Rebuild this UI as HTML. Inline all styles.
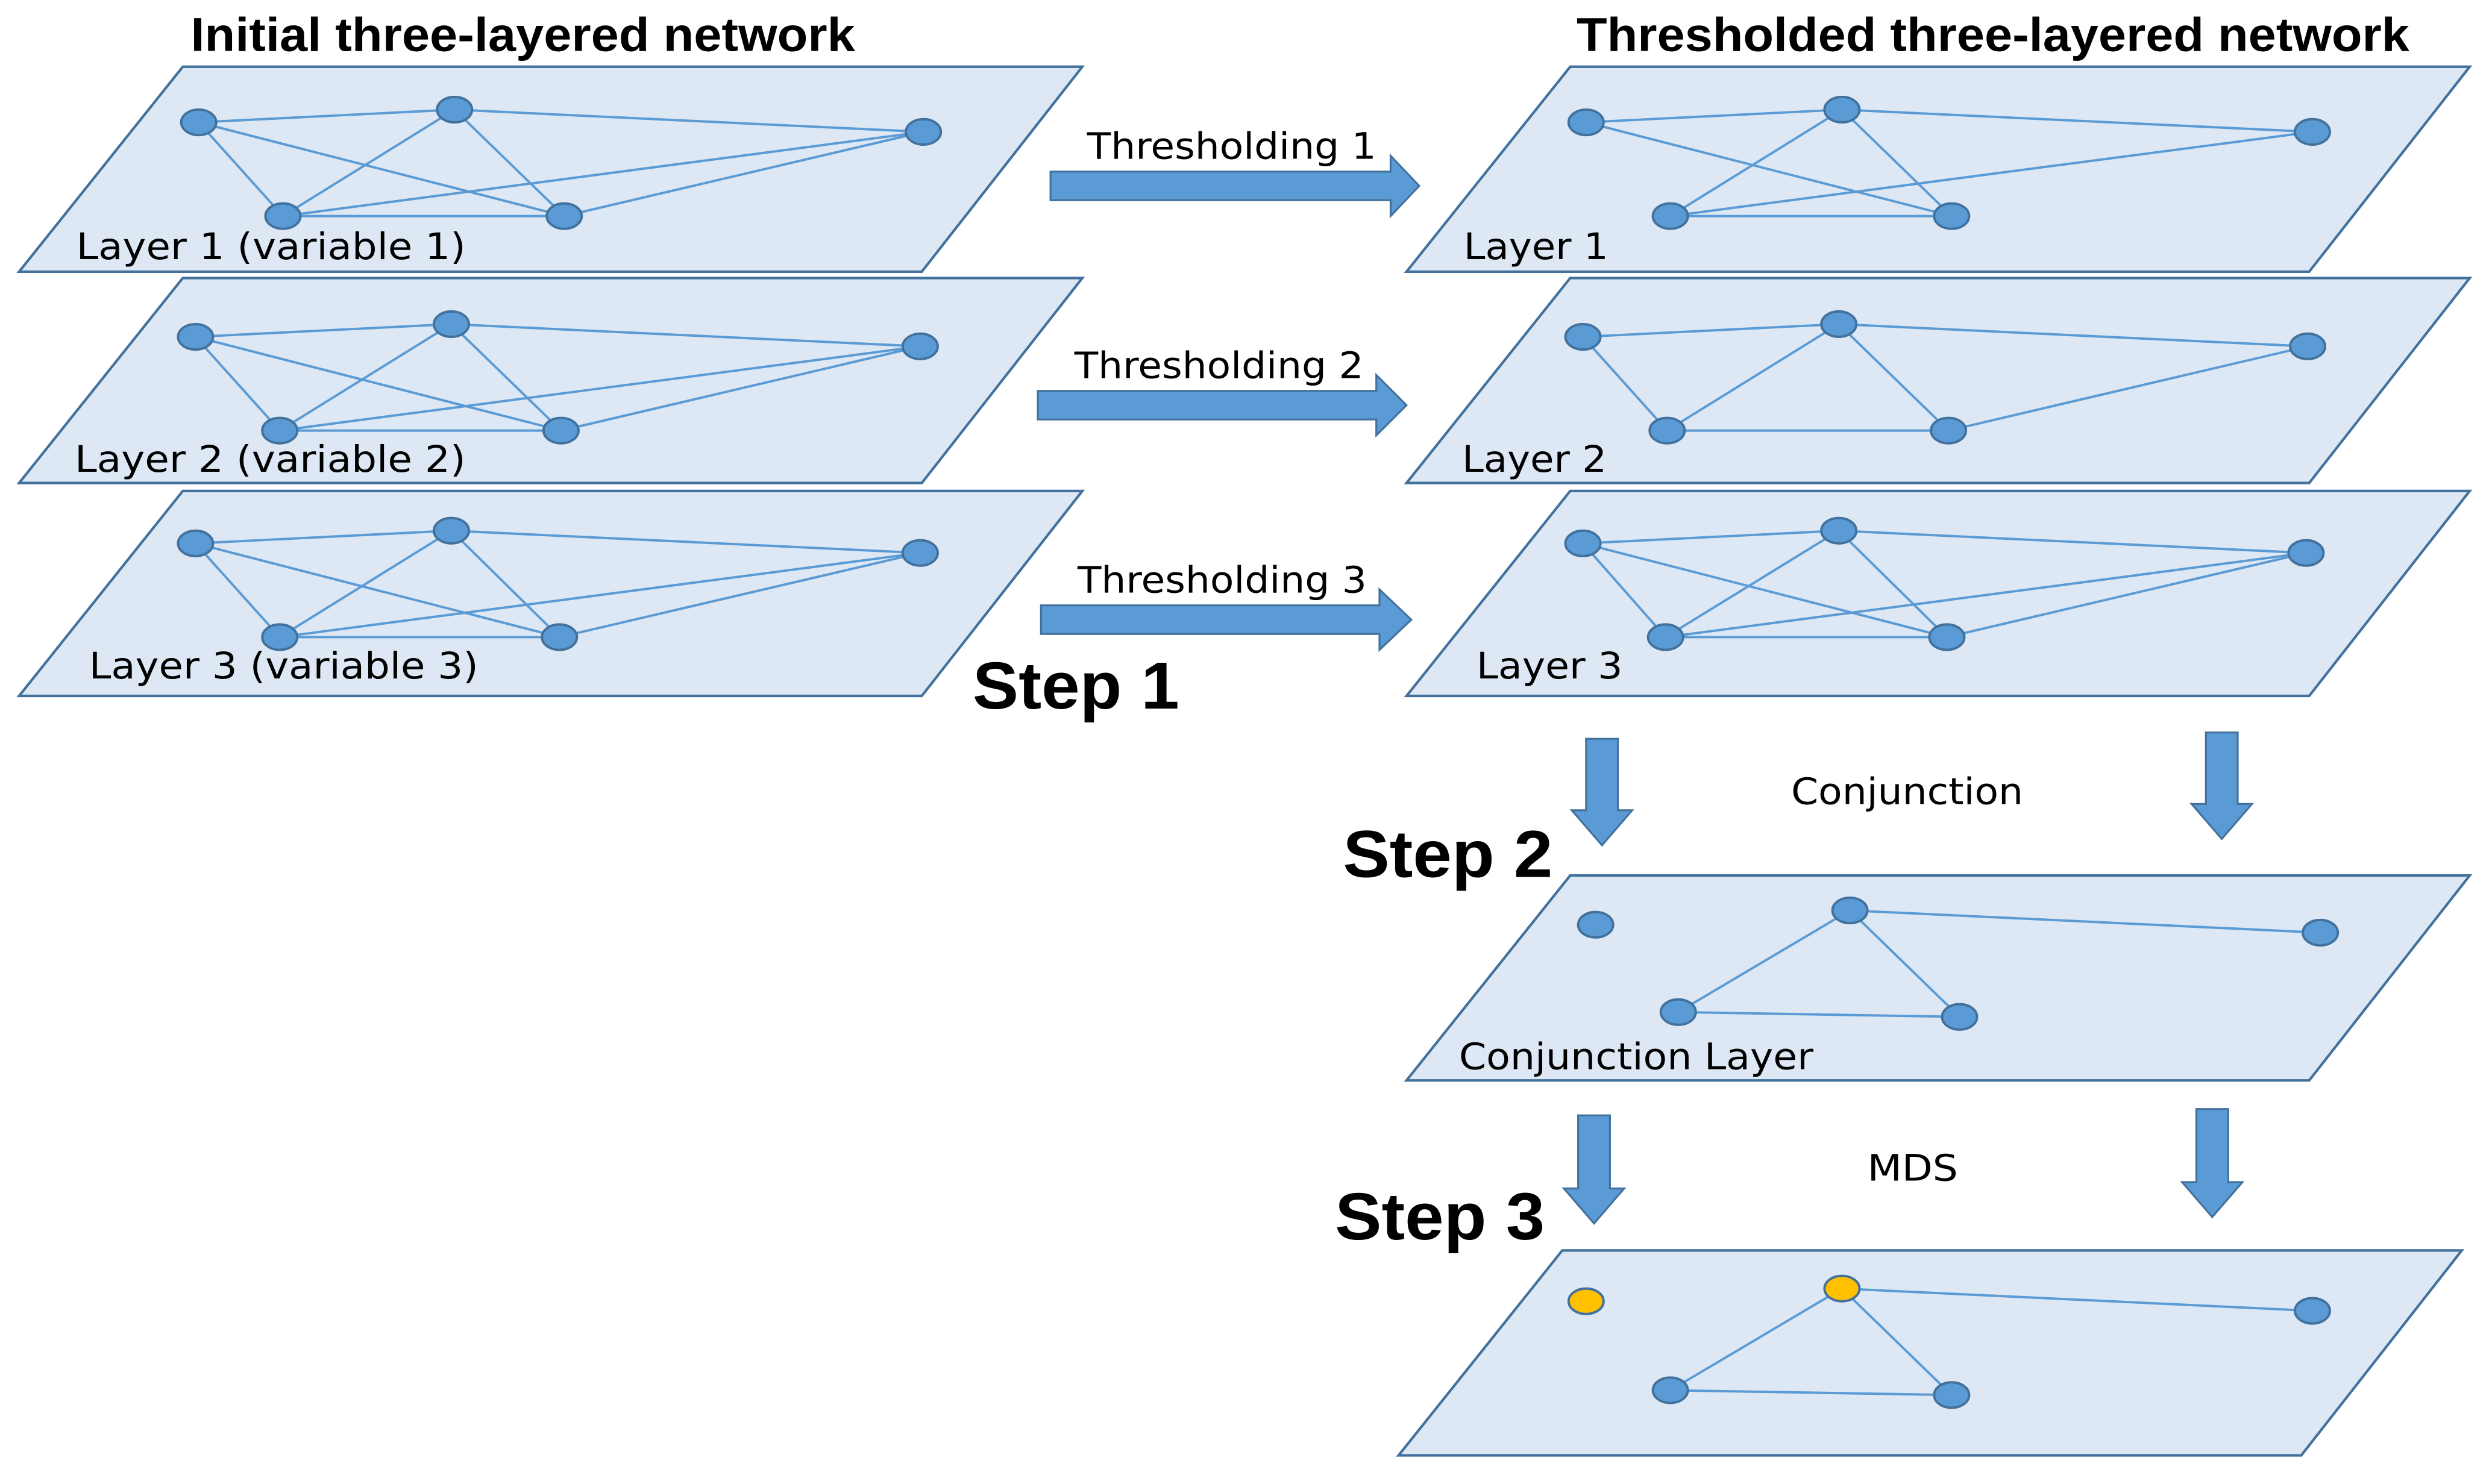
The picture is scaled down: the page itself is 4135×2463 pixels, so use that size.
<!DOCTYPE html>
<html><head><meta charset="utf-8"><style>
html,body{margin:0;padding:0;background:#fff;}
svg{display:block;}
.l{font-family:"DejaVu Sans","Liberation Sans",sans-serif;font-size:23px;fill:#000;}
.t{font-family:"Liberation Sans",sans-serif;font-weight:bold;font-size:30px;fill:#000;}
.s{font-family:"Liberation Sans",sans-serif;font-weight:bold;font-size:42px;fill:#000;}
</style></head><body>
<svg width="4135" height="2463" viewBox="0 0 1568 934" xmlns="http://www.w3.org/2000/svg">
<defs>
<g id="pl"><polygon points="0,0 568,0 669,-129 103,-129" fill="#dde8f4" stroke="#41719c" stroke-width="1.6"/></g>
</defs>
<use href="#pl" x="12" y="171"/><use href="#pl" x="12" y="304"/><use href="#pl" x="12" y="438"/>
<use href="#pl" x="885" y="171"/><use href="#pl" x="885" y="304"/><use href="#pl" x="885" y="438"/>
<use href="#pl" x="885" y="680"/><use href="#pl" x="880" y="916"/>
<g stroke="#5b9bd5" stroke-width="1.5" fill="none">
<path d="M125,77L286,69L581,83 M125,77L178,136 M125,77L355,136 M286,69L178,136 M286,69L355,136 M178,136L581,83 M355,136L581,83 M178,136L355,136"/>
<path d="M998,77L1159,69L1455,83 M998,77L1228,136 M1159,69L1051,136 M1159,69L1228,136 M1051,136L1455,83 M1051,136L1228,136"/>
<path d="M123,212L284,204L579,218 M123,212L176,271 M123,212L353,271 M284,204L176,271 M284,204L353,271 M176,271L579,218 M353,271L579,218 M176,271L353,271"/>
<path d="M996,212L1157,204L1452,218 M996,212L1049,271 M1157,204L1049,271 M1157,204L1226,271 M1049,271L1226,271 M1226,271L1452,218"/>
<path d="M123,342L284,334L579,348 M123,342L176,401 M123,342L352,401 M284,334L176,401 M284,334L352,401 M176,401L579,348 M352,401L579,348 M176,401L352,401"/>
<path d="M996,342L1157,334L1451,348 M996,342L1048,401 M996,342L1225,401 M1157,334L1048,401 M1157,334L1225,401 M1048,401L1451,348 M1225,401L1451,348 M1048,401L1225,401"/>
<path d="M1164,573L1460,587 M1164,573L1056,637 M1164,573L1233,640 M1056,637L1233,640"/>
<path d="M1159,811L1455,825 M1159,811L1051,875 M1159,811L1228,878 M1051,875L1228,878"/>
</g>
<g fill="#5b9bd5" stroke="#41719c" stroke-width="1.5">
<ellipse cx="125" cy="77" rx="11" ry="8"/><ellipse cx="286" cy="69" rx="11" ry="8"/><ellipse cx="581" cy="83" rx="11" ry="8"/><ellipse cx="178" cy="136" rx="11" ry="8"/><ellipse cx="355" cy="136" rx="11" ry="8"/>
<ellipse cx="998" cy="77" rx="11" ry="8"/><ellipse cx="1159" cy="69" rx="11" ry="8"/><ellipse cx="1455" cy="83" rx="11" ry="8"/><ellipse cx="1051" cy="136" rx="11" ry="8"/><ellipse cx="1228" cy="136" rx="11" ry="8"/>
<ellipse cx="123" cy="212" rx="11" ry="8"/><ellipse cx="284" cy="204" rx="11" ry="8"/><ellipse cx="579" cy="218" rx="11" ry="8"/><ellipse cx="176" cy="271" rx="11" ry="8"/><ellipse cx="353" cy="271" rx="11" ry="8"/>
<ellipse cx="996" cy="212" rx="11" ry="8"/><ellipse cx="1157" cy="204" rx="11" ry="8"/><ellipse cx="1452" cy="218" rx="11" ry="8"/><ellipse cx="1049" cy="271" rx="11" ry="8"/><ellipse cx="1226" cy="271" rx="11" ry="8"/>
<ellipse cx="123" cy="342" rx="11" ry="8"/><ellipse cx="284" cy="334" rx="11" ry="8"/><ellipse cx="579" cy="348" rx="11" ry="8"/><ellipse cx="176" cy="401" rx="11" ry="8"/><ellipse cx="352" cy="401" rx="11" ry="8"/>
<ellipse cx="996" cy="342" rx="11" ry="8"/><ellipse cx="1157" cy="334" rx="11" ry="8"/><ellipse cx="1451" cy="348" rx="11" ry="8"/><ellipse cx="1048" cy="401" rx="11" ry="8"/><ellipse cx="1225" cy="401" rx="11" ry="8"/>
<ellipse cx="1004" cy="582" rx="11" ry="8"/><ellipse cx="1164" cy="573" rx="11" ry="8"/><ellipse cx="1460" cy="587" rx="11" ry="8"/><ellipse cx="1056" cy="637" rx="11" ry="8"/><ellipse cx="1233" cy="640" rx="11" ry="8"/>
<ellipse cx="1455" cy="825" rx="11" ry="8"/><ellipse cx="1051" cy="875" rx="11" ry="8"/><ellipse cx="1228" cy="878" rx="11" ry="8"/>
</g>
<g fill="#ffc000" stroke="#41719c" stroke-width="1.5">
<ellipse cx="998" cy="819" rx="11" ry="8"/><ellipse cx="1159" cy="811" rx="11" ry="8"/>
</g>
<g fill="#5b9bd5" stroke="#41719c" stroke-width="1.2">
<polygon points="661,108 875,108 875,98 893,117 875,136 875,126 661,126"/>
<polygon points="653,246 866,246 866,236 885,255 866,274 866,264 653,264"/>
<polygon points="655,381 868,381 868,371 888,390 868,409 868,399 655,399"/>
<polygon points="998,465 1018,465 1018,510 1027,510 1008,532 989,510 998,510"/>
<polygon points="1388,461 1408,461 1408,506 1417,506 1398,528 1379,506 1388,506"/>
<polygon points="993,702 1013,702 1013,748 1022,748 1003,770 984,748 993,748"/>
<polygon points="1382,698 1402,698 1402,744 1411,744 1392,766 1373,744 1382,744"/>
</g>
<text class="t" x="120" y="32" textLength="418" lengthAdjust="spacingAndGlyphs">Initial three-layered network</text>
<text class="t" x="992" y="32" textLength="524" lengthAdjust="spacingAndGlyphs">Thresholded three-layered network</text>
<text class="l" x="48" y="163" textLength="245" lengthAdjust="spacingAndGlyphs">Layer 1 (variable 1)</text>
<text class="l" x="47" y="297" textLength="246" lengthAdjust="spacingAndGlyphs">Layer 2 (variable 2)</text>
<text class="l" x="56" y="427" textLength="245" lengthAdjust="spacingAndGlyphs">Layer 3 (variable 3)</text>
<text class="l" x="921" y="163" textLength="91" lengthAdjust="spacingAndGlyphs">Layer 1</text>
<text class="l" x="920" y="297" textLength="91" lengthAdjust="spacingAndGlyphs">Layer 2</text>
<text class="l" x="929" y="427" textLength="92" lengthAdjust="spacingAndGlyphs">Layer 3</text>
<text class="l" x="918" y="673" textLength="223" lengthAdjust="spacingAndGlyphs">Conjunction Layer</text>
<text class="l" x="684" y="100" textLength="182" lengthAdjust="spacingAndGlyphs">Thresholding 1</text>
<text class="l" x="676" y="238" textLength="182" lengthAdjust="spacingAndGlyphs">Thresholding 2</text>
<text class="l" x="678" y="373" textLength="182" lengthAdjust="spacingAndGlyphs">Thresholding 3</text>
<text class="l" x="1127" y="506" textLength="146" lengthAdjust="spacingAndGlyphs">Conjunction</text>
<text class="l" x="1175" y="743" textLength="57" lengthAdjust="spacingAndGlyphs">MDS</text>
<text class="s" x="612" y="446" textLength="130" lengthAdjust="spacingAndGlyphs">Step 1</text>
<text class="s" x="845" y="552" textLength="132" lengthAdjust="spacingAndGlyphs">Step 2</text>
<text class="s" x="840" y="780" textLength="132" lengthAdjust="spacingAndGlyphs">Step 3</text>
</svg>
</body></html>
